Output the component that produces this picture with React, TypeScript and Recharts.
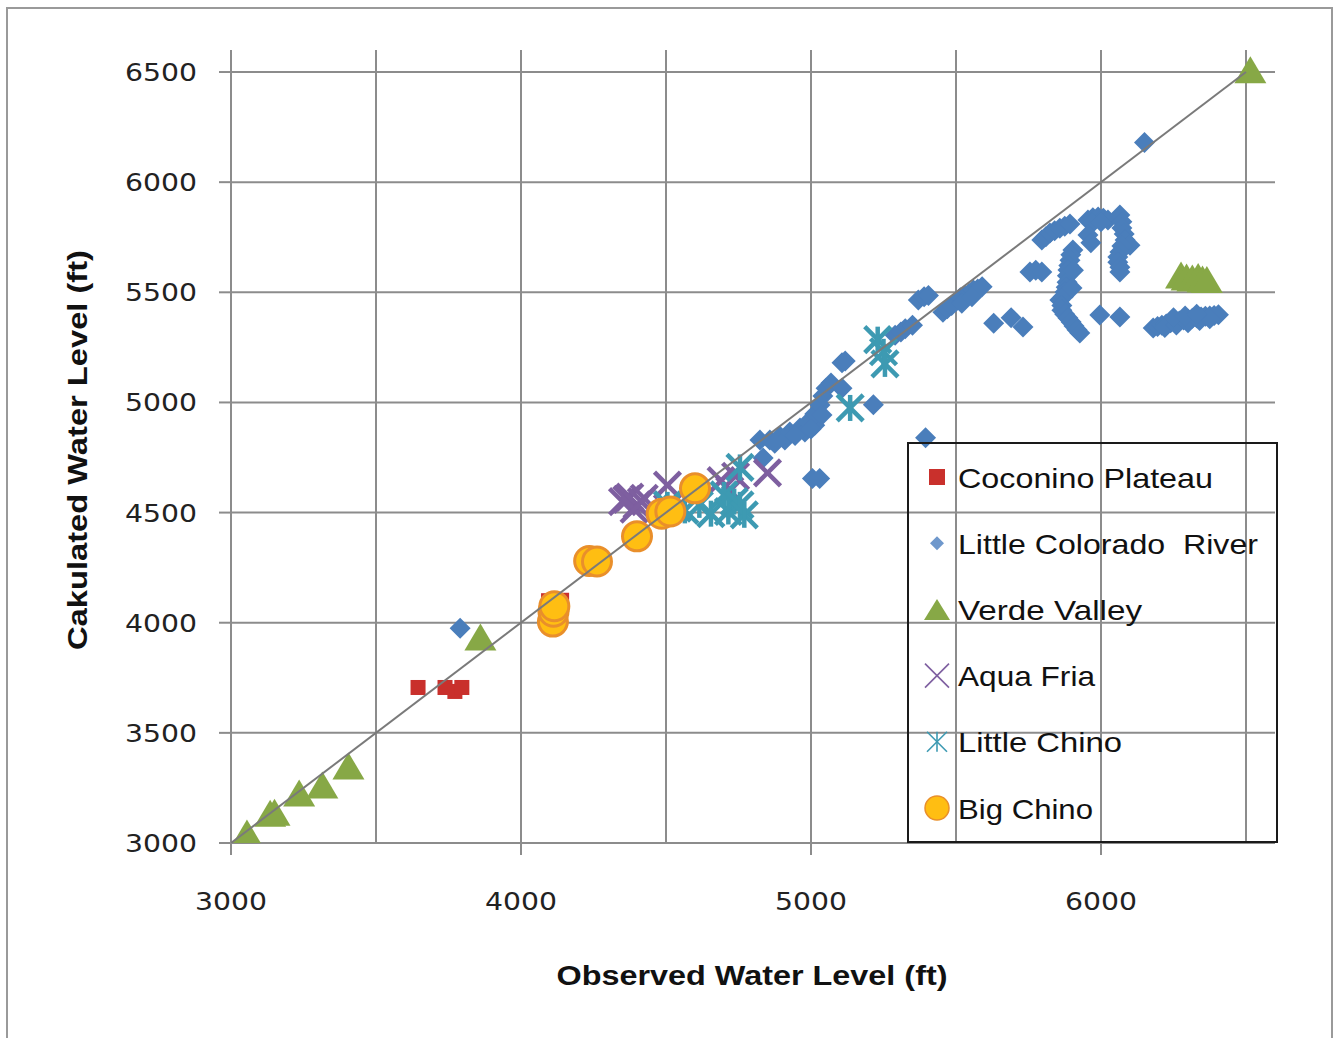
import React from 'react';
import { ScatterChart, Scatter, XAxis, YAxis, CartesianGrid } from 'recharts';

type Pt = [number, number];

const coconinoPlateau: Pt[] = [
  [3645, 3706], [3738, 3706], [3772, 3688], [3796, 3706], [4095, 4100], [4140, 4102],
];

const littleColoradoRiver: Pt[] = [
  [3790, 3975], [6150, 6180], [5395, 4840], [5005, 4655], [5030, 4655], [4835, 4748], [5215, 4990],
  // chain 4800-5100
  [4824, 4829], [4858, 4829], [4893, 4847], [4910, 4829], [4927, 4866], [4962, 4884], [4979, 4866],
  [4990, 4911], [5013, 4897], [5013, 4947], [5031, 4988], [5038, 4943], [5041, 5029], [5052, 5065],
  [5069, 5088], [5107, 5065], [5107, 5180], [5118, 5188], [4875, 4815], [4945, 4850], [5000, 4880],
  [5290, 5305], [5310, 5320], [5325, 5335], [5350, 5350], [5370, 5465], [5390, 5480], [5405, 5485],
  [5455, 5410], [5470, 5425], [5485, 5440], [5500, 5458], [5515, 5475], [5530, 5485], [5545, 5495],
  [5560, 5510], [5575, 5515], [5590, 5525], [5520, 5450], [5555, 5480],
  [5630, 5360], [5690, 5385], [5731, 5342],
  [5755, 5592], [5775, 5600], [5796, 5592],
  // upper arc
  [5796, 5737], [5810, 5752], [5824, 5769], [5840, 5780], [5858, 5791], [5875, 5800], [5893, 5810],
  [5955, 5828], [5972, 5838], [5990, 5842], [6008, 5836], [6024, 5828], [5970, 5815], [6000, 5820],
  [5955, 5760], [5965, 5725],
  // column near 5900
  [5903, 5692], [5896, 5670], [5893, 5646], [5889, 5622], [5886, 5601], [5884, 5575], [5883, 5546],
  [5880, 5523], [5876, 5501], [5858, 5465], [5870, 5480], [5865, 5440], [5865, 5419], [5875, 5400],
  [5886, 5383], [5897, 5365], [5907, 5347], [5917, 5330], [5927, 5315], [5905, 5600], [5900, 5520],
  [5996, 5397], [6065, 5388],
  // right column
  [6065, 5851], [6072, 5820], [6072, 5792], [6080, 5765], [6083, 5737], [6100, 5714], [6072, 5710],
  [6065, 5683], [6058, 5660], [6058, 5637], [6065, 5614], [6065, 5592],
  // lower right band
  [6180, 5338], [6195, 5345], [6210, 5350], [6225, 5356], [6240, 5362], [6255, 5366], [6270, 5370],
  [6285, 5374], [6300, 5378], [6315, 5382], [6330, 5385], [6345, 5388], [6360, 5391], [6375, 5393],
  [6390, 5395], [6405, 5398], [6220, 5340], [6260, 5352], [6300, 5362], [6340, 5372], [6375, 5380],
  [6250, 5385], [6290, 5392], [6330, 5400],
];

const verdeValley: Pt[] = [
  [3055, 3045], [3135, 3135], [3150, 3140], [3235, 3227], [3315, 3263], [3405, 3350], [3860, 3935],
  [6515, 6510], [6276, 5578], [6295, 5570], [6315, 5565], [6335, 5572], [6350, 5560], [6365, 5558],
];

const aquaFria: Pt[] = [
  [4350, 4550], [4365, 4560], [4375, 4570], [4400, 4535], [4415, 4550], [4425, 4565], [4390, 4515],
  [4505, 4625], [4690, 4645], [4720, 4600], [4740, 4665], [4850, 4680],
];

const littleChino: Pt[] = [
  [4505, 4535], [4540, 4520], [4565, 4510], [4615, 4535], [4655, 4495], [4700, 4580], [4715, 4505],
  [4735, 4550], [4755, 4535], [4770, 4490], [4755, 4705], [5135, 4975], [5230, 5285], [5250, 5230],
  [5255, 5175],
];

const bigChino: Pt[] = [
  [4110, 4005], [4112, 4050], [4115, 4075], [4235, 4280], [4262, 4278], [4400, 4392],
  [4485, 4495], [4515, 4505], [4600, 4610],
];

const oneToOne: Pt[] = [[3000, 3000], [6500, 6500]];

const seriesNames = ['Coconino Plateau', 'Little Colorado  River', 'Verde Valley', 'Aqua Fria', 'Little Chino', 'Big Chino'];

const xTicks = [3000, 3500, 4000, 4500, 5000, 5500, 6000, 6500];
const yTicks = [3000, 3500, 4000, 4500, 5000, 5500, 6000, 6500];

const toRows = (pts: Pt[]) => pts.map(([x, y]) => ({ x, y }));

const GRID = '#8c8c8c';
const TICK_FONT = '"DejaVu Sans", Verdana, sans-serif';
const LABEL_FONT = '"Liberation Sans", Arial, sans-serif';

// marker drawers, used both in the plot and the legend
const square = (cx: number, cy: number, s: number) => (
  <rect x={cx - s / 2} y={cy - s / 2} width={s} height={s} fill="#c9302c" />
);
const diamond = (cx: number, cy: number, s: number, fill = '#4a7ebb') => (
  <polygon points={`${cx},${cy - s / 2} ${cx + s / 2},${cy} ${cx},${cy + s / 2} ${cx - s / 2},${cy}`} fill={fill} />
);
const triangle = (cx: number, cy: number, w: number, h: number) => (
  <polygon points={`${cx},${cy - h / 2} ${cx + w / 2},${cy + h / 2} ${cx - w / 2},${cy + h / 2}`} fill="#87a846" />
);
const cross = (cx: number, cy: number, s: number, sw: number) => (
  <g stroke="#7e5fa0" strokeWidth={sw} strokeLinecap="butt">
    <line x1={cx - s / 2} y1={cy - s / 2} x2={cx + s / 2} y2={cy + s / 2} />
    <line x1={cx - s / 2} y1={cy + s / 2} x2={cx + s / 2} y2={cy - s / 2} />
  </g>
);
const star = (cx: number, cy: number, s: number, sw: number) => (
  <g stroke="#3d9ab2" strokeWidth={sw}>
    <line x1={cx - s / 2} y1={cy - s / 2} x2={cx + s / 2} y2={cy + s / 2} />
    <line x1={cx - s / 2} y1={cy + s / 2} x2={cx + s / 2} y2={cy - s / 2} />
    <line x1={cx} y1={cy - s / 2} x2={cx} y2={cy + s / 2} />
  </g>
);
const circle = (cx: number, cy: number, r: number, sw: number) => (
  <circle cx={cx} cy={cy} r={r} fill="#ffbe12" stroke="#e98f2b" strokeWidth={sw} />
);

const shapes = [
  (p: any) => square(p.cx, p.cy, 15),
  (p: any) => diamond(p.cx, p.cy, 21),
  (p: any) => triangle(p.cx, p.cy, 32, 27),
  (p: any) => cross(p.cx, p.cy, 26, 4.5),
  (p: any) => star(p.cx, p.cy, 26, 4.5),
  (p: any) => circle(p.cx, p.cy, 14.5, 3),
];

const legendMarkers = [
  (cx: number, cy: number) => square(cx, cy, 16),
  (cx: number, cy: number) => diamond(cx, cy, 14, '#6f98cc'),
  (cx: number, cy: number) => triangle(cx, cy, 26, 21),
  (cx: number, cy: number) => cross(cx, cy, 24, 1.6),
  (cx: number, cy: number) => star(cx, cy, 20, 1.6),
  (cx: number, cy: number) => circle(cx, cy, 12, 1.5),
];
const legendTextWidths = [255, 300, 184, 137, 164, 135];

const XTick = ({ x, y, payload }: any) => {
  if (payload.value % 1000 !== 0) return <g />;
  return (
    <g>
      <line x1={x} x2={x} y1={y} y2={y + 12} stroke={GRID} strokeWidth={2} />
      <text x={x} y={y + 59} textAnchor="middle" dominantBaseline="central" fontFamily={TICK_FONT}
        fontSize={24} fill="#222" textLength={72} lengthAdjust="spacingAndGlyphs">
        {payload.value}
      </text>
    </g>
  );
};

const YTick = ({ x, y, payload }: any) => (
  <g>
    <line x1={x - 12} x2={x} y1={y} y2={y} stroke={GRID} strokeWidth={2} />
    <text x={x - 34} y={y + 1} textAnchor="end" dominantBaseline="central" fontFamily={TICK_FONT}
      fontSize={24} fill="#222" textLength={72} lengthAdjust="spacingAndGlyphs">
      {payload.value}
    </text>
  </g>
);

const data = [coconinoPlateau, littleColoradoRiver, verdeValley, aquaFria, littleChino, bigChino];

export default function App() {
  return (
    <div style={{ position: 'absolute', left: 0, top: 0, width: 1333, height: 1038, background: '#fff', overflow: 'hidden' }}>
      <div style={{ position: 'absolute', left: 6, top: 7, width: 1327, height: 1040, border: '2px solid #9a9a9a', boxSizing: 'border-box' }} />
      <div style={{ position: 'absolute', left: 0, top: 0 }}>
        <ScatterChart width={1333} height={1038} margin={{ top: 50, right: 58, bottom: 135, left: 131 }}>
          <CartesianGrid stroke={GRID} strokeWidth={2} syncWithTicks />
          <XAxis type="number" dataKey="x" domain={[3000, 6600]} ticks={xTicks} allowDataOverflow
            height={60} tickSize={0} tickMargin={0} tickLine={false} tick={<XTick />}
            axisLine={{ stroke: GRID, strokeWidth: 2 }} interval={0} />
          <YAxis type="number" dataKey="y" domain={[3000, 6600]} ticks={yTicks} allowDataOverflow
            width={100} tickSize={0} tickMargin={0} tickLine={false} tick={<YTick />}
            axisLine={{ stroke: GRID, strokeWidth: 2 }} interval={0} />
          {data.map((pts, i) => (
            <Scatter key={seriesNames[i]} name={seriesNames[i]} data={toRows(pts)} shape={shapes[i]} isAnimationActive={false} />
          ))}
          <Scatter name="1:1" data={toRows(oneToOne)} line={{ stroke: '#7a7a7a', strokeWidth: 2 }}
            shape={() => <g />} legendType="none" isAnimationActive={false} />
        </ScatterChart>
      </div>
      <svg width={1333} height={1038} style={{ position: 'absolute', left: 0, top: 0, pointerEvents: 'none' }}>
        <text x={752} y={975} textAnchor="middle" dominantBaseline="central" fontFamily={LABEL_FONT}
          fontWeight="bold" fontSize={28} fill="#111" textLength={391} lengthAdjust="spacingAndGlyphs">
          Observed Water Level (ft)
        </text>
        <text transform="translate(77,450) rotate(-90)" textAnchor="middle" dominantBaseline="central"
          fontFamily={LABEL_FONT} fontWeight="bold" fontSize={28} fill="#111" textLength={400} lengthAdjust="spacingAndGlyphs">
          Cakulated Water Level (ft)
        </text>
        <rect x={908} y={443} width={369} height={399} fill="none" stroke="#1a1a1a" strokeWidth={2} />
        {seriesNames.map((name, i) => {
          const cy = 477 + i * 66.2;
          return (
            <g key={name}>
              {legendMarkers[i](937, cy)}
              <text x={958} y={cy + 1} dominantBaseline="central" fontFamily={LABEL_FONT} fontSize={28}
                fill="#111" textLength={legendTextWidths[i]} lengthAdjust="spacingAndGlyphs" style={{ whiteSpace: 'pre' }}>
                {name}
              </text>
            </g>
          );
        })}
      </svg>
    </div>
  );
}
